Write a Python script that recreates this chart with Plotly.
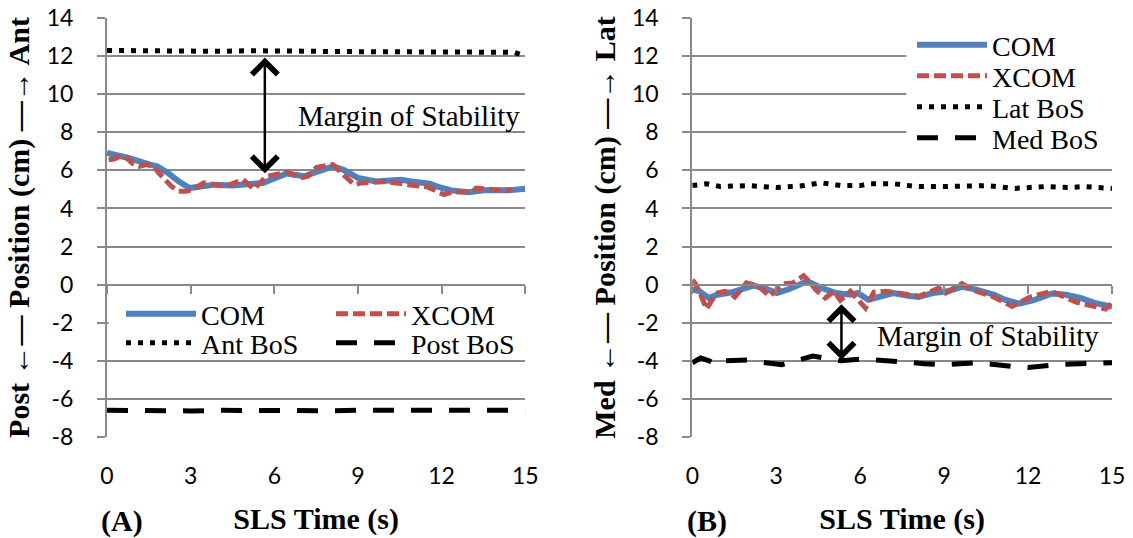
import plotly.graph_objects as go

# ---------------- Panel A: anterior / posterior ----------------
t_com_ap = [0.0, 0.77, 1.54, 1.80, 2.19, 2.57, 2.96, 3.34, 3.86, 4.50, 5.14, 5.59,
            6.04, 6.43, 7.07, 7.45, 8.10, 8.48, 9.00, 9.64, 10.54, 10.93, 11.57,
            11.82, 12.34, 12.98, 13.50, 14.40, 15.0]
com_ap = [6.91, 6.65, 6.30, 6.21, 5.86, 5.42, 5.07, 5.16, 5.25, 5.20, 5.28, 5.34,
          5.60, 5.83, 5.69, 5.86, 6.21, 6.03, 5.60, 5.42, 5.51, 5.42, 5.30,
          5.16, 4.95, 4.85, 4.95, 4.95, 5.04]

t_xcom_ap = [0.06, 0.26, 0.51, 0.71, 0.90, 1.16, 1.41, 1.67, 1.86, 2.06, 2.31, 2.57,
             2.83, 3.08, 3.47, 3.86, 4.24, 4.88, 5.27, 5.72, 6.04, 6.49, 6.94, 7.20,
             7.52, 8.10, 8.48, 8.87, 9.13, 9.90, 10.80, 11.50, 12.08, 12.34, 13.11,
             13.24, 14.14, 14.52]
xcom_ap = [6.56, 6.59, 6.77, 6.65, 6.38, 6.21, 6.30, 6.21, 5.86, 5.51, 5.16, 4.90,
           4.90, 4.99, 5.34, 5.25, 5.16, 5.51, 5.02, 5.69, 5.77, 5.90, 5.60, 5.69,
           6.16, 6.30, 5.77, 5.25, 5.34, 5.42, 5.25, 5.13, 4.73, 4.85, 4.90,
           5.07, 4.95, 4.99]

t_ant_bos = [0, 1, 2, 3, 4, 5, 6, 7, 8, 9, 10, 11, 12, 13, 14, 14.6, 15]
ant_bos = [12.30, 12.28, 12.30, 12.22, 12.25, 12.28, 12.24, 12.26, 12.24, 12.24,
           12.24, 12.22, 12.18, 12.20, 12.24, 12.20, 12.00]

t_post_bos = [0, 1, 2, 3, 4, 5, 6, 7, 8, 9, 10, 11, 12, 13, 14, 15]
post_bos = [-6.60, -6.62, -6.60, -6.63, -6.60, -6.62, -6.60, -6.60, -6.62, -6.60,
            -6.60, -6.62, -6.66, -6.64, -6.60, -6.60]

# ---------------- Panel B: medial / lateral ----------------
t_com_ml = [0.0, 0.26, 0.58, 0.90, 1.41, 1.80, 2.18, 2.57, 3.02, 3.47, 4.11, 4.62,
            5.14, 5.65, 5.91, 6.29, 6.68, 7.19, 7.71, 8.09, 8.60, 9.12, 9.63, 10.15,
            10.79, 11.17, 11.69, 12.20, 12.84, 13.36, 13.87, 14.38, 15.0]
com_ml = [-0.26, -0.35, -0.70, -0.53, -0.40, -0.26, -0.05, -0.18, -0.44, -0.23, 0.18,
          -0.18, -0.44, -0.53, -0.44, -0.79, -0.65, -0.44, -0.58, -0.65, -0.44, -0.35,
          -0.12, -0.26, -0.53, -0.79, -1.00, -0.82, -0.47, -0.53, -0.70, -0.96, -1.17]

t_xcom_ml = [0.0, 0.13, 0.32, 0.51, 0.71, 0.90, 1.16, 1.35, 1.52, 1.67, 1.93, 2.18,
             2.44, 2.76, 3.02, 3.27, 3.60, 3.98, 4.17, 4.43, 4.75, 5.07, 5.29, 5.65,
             6.19, 6.49, 6.93, 7.58, 8.09, 8.48, 8.80, 9.05, 9.63, 10.15, 10.72, 11.43,
             12.07, 12.84, 13.74, 14.77, 15.0]
xcom_ml = [0.26, 0.00, -0.61, -1.28, -0.79, -0.44, -0.35, -0.44, -0.65, -0.35, 0.09,
           0.00, -0.18, -0.61, -0.30, 0.05, 0.09, 0.47, 0.18, -0.30, -0.70, -0.35,
           -0.82, -0.35, -1.23, -0.39, -0.35, -0.47, -0.61, -0.40, -0.18, -0.44, 0.05,
           -0.35, -0.61, -1.14, -0.65, -0.35, -0.93, -1.28, -0.96]

t_lat_bos = [0, 0.5, 1, 2, 3, 4, 4.6, 5.3, 6, 6.3, 7.2, 8, 9, 10, 10.5, 11.5, 12.6,
             13.5, 14, 15]
lat_bos = [5.20, 5.30, 5.15, 5.20, 5.10, 5.20, 5.35, 5.20, 5.20, 5.30, 5.30, 5.15,
           5.15, 5.20, 5.20, 5.05, 5.15, 5.10, 5.15, 5.05]

t_med_bos = [0, 0.3, 0.6, 0.9, 1.2, 2.0, 2.3, 3.2, 4.3, 5.3, 6.1, 7.2, 8.3, 9.0, 10.2,
             11.5, 12.0, 13.0, 13.8, 15]
med_bos = [-4.10, -3.85, -4.00, -4.25, -4.00, -3.95, -4.05, -4.20, -3.75, -4.00,
           -3.90, -4.05, -4.15, -4.20, -4.10, -4.30, -4.35, -4.20, -4.15, -4.10]

# ---------------- axis ticks ----------------
x_ticks = [0, 3, 6, 9, 12, 15]
y_ticks = list(range(-8, 15, 2))
y_ticktext = [str(v) for v in y_ticks]
y_range = [-8, 14]

# margin-of-stability arrows (time, upper end, lower end)
mos_a = (5.66, 12.0, 5.85)
mos_b = (5.33, -0.95, -3.95)

BLUE = "#4F81BD"
RED = "#C0504D"
GRID = "#898989"
SERIF = "Liberation Serif"
SANS = "Lato"

fig = go.Figure()


def add_line(x, y, name, color, width, dash, xa, ya, legend):
    fig.add_trace(go.Scatter(
        x=x, y=y, name=name, mode="lines",
        line=dict(color=color, width=width, dash=dash),
        xaxis=xa, yaxis=ya, legend=legend, hoverinfo="skip",
    ))


add_line(t_com_ap, com_ap, "COM", BLUE, 6, "solid", "x", "y", "legend")
add_line(t_xcom_ap, xcom_ap, "XCOM", RED, 5, "12px,5px", "x", "y", "legend2")
add_line(t_ant_bos, ant_bos, "Ant BoS", "black", 5, "5px,7px", "x", "y", "legend3")
add_line(t_post_bos, post_bos, "Post BoS", "black", 5, "21px,17px", "x", "y", "legend4")

add_line(t_com_ml, com_ml, "COM", BLUE, 6, "solid", "x2", "y2", "legend5")
add_line(t_xcom_ml, xcom_ml, "XCOM", RED, 5, "12px,5px", "x2", "y2", "legend6")
add_line(t_lat_bos, lat_bos, "Lat BoS", "black", 5, "5px,7px", "x2", "y2", "legend7")
add_line(t_med_bos, med_bos, "Med BoS", "black", 5, "21px,17px", "x2", "y2", "legend8")

# plot area: 1005 x 419 px (margins l=107, r=21, t=18, b=101)
L, T, W, H = 107, 18, 1005, 419


def px_x(p):
    return (p - L) / W


def px_y(p):
    return (T + H - p) / H


def legend_at(xpx, ypx):
    return dict(x=px_x(xpx), y=px_y(ypx), xanchor="left", yanchor="middle",
                orientation="h", bgcolor="rgba(0,0,0,0)", borderwidth=0,
                itemwidth=70, font=dict(family=SERIF, size=28, color="black"),
                itemclick=False, itemdoubleclick=False)


zero_pos = (0 - y_range[0]) / (y_range[1] - y_range[0])

xaxis_common = dict(
    range=[0, 15], tickvals=x_ticks, anchor="free", position=zero_pos,
    showline=True, linecolor=GRID, linewidth=2, ticks="outside", ticklen=8,
    tickwidth=2, tickcolor=GRID, showgrid=False, zeroline=False,
    tickfont=dict(family=SANS, size=23, color="black"), ticklabelstandoff=163,
    title=dict(text="SLS Time (s)", standoff=19,
               font=dict(family=SERIF, size=30, color="black", weight="bold")),
)
yaxis_common = dict(
    range=y_range, tickvals=y_ticks, ticktext=y_ticktext, showgrid=True,
    gridcolor=GRID, gridwidth=2, showline=True, linecolor=GRID, linewidth=2,
    ticks="outside", ticklen=8, tickwidth=2, tickcolor=GRID, zeroline=False,
    tickfont=dict(family=SANS, size=23, color="black"), ticklabelstandoff=19,
)
ytitle_font = dict(family=SERIF, size=30, color="black", weight="bold")

fig.update_layout(
    width=1133, height=538,
    margin=dict(l=L, r=21, t=T, b=101, autoexpand=False),
    paper_bgcolor="white", plot_bgcolor="white",
    xaxis=dict(domain=[0, 0.4162], **xaxis_common),
    xaxis2=dict(domain=[0.5824, 1.0], **xaxis_common),
    yaxis=dict(anchor="x", domain=[0, 1], **yaxis_common,
               title=dict(text="Post ←— Position (cm) —→ Ant", standoff=8,
                          font=ytitle_font)),
    yaxis2=dict(anchor="x2", domain=[0, 1], **yaxis_common,
                title=dict(text="Med ←— Position (cm) —→ Lat", standoff=8,
                           font=ytitle_font)),
    legend=legend_at(121, 314),
    legend2=legend_at(331, 314),
    legend3=legend_at(121, 343),
    legend4=legend_at(331, 343),
    legend5=legend_at(912, 45),
    legend6=legend_at(912, 76),
    legend7=legend_at(912, 107),
    legend8=legend_at(912, 138),
    showlegend=True,
)

# white legend panels that hide the gridlines behind the legend entries
fig.add_shape(type="rect", xref="x domain", yref="y", x0=0.004, x1=1.0,
              y0=-3.75, y1=-0.55, fillcolor="white", line_width=0, layer="above")
fig.add_shape(type="rect", xref="x2 domain", yref="y2", x0=0.51, x1=1.0,
              y0=7.0, y1=13.5, fillcolor="white", line_width=0, layer="above")

# panel letters
for label, xref in (("(A)", "x domain"), ("(B)", "x2 domain")):
    fig.add_annotation(text=label, x=0.036, y=-0.2, xref=xref, yref="paper",
                       xanchor="center", yanchor="middle", showarrow=False,
                       font=dict(family=SERIF, size=30, color="black", weight="bold"))

# margin of stability labels and arrows
for (t, top, bottom), xr, yr, tx, ty in ((mos_a, "x", "y", 6.79, 8.83),
                                         (mos_b, "x2", "y2", 6.52, -2.71)):
    fig.add_annotation(text="Margin of Stability", x=tx, y=ty, xref=xr, yref=yr,
                       xanchor="left", yanchor="middle", showarrow=False,
                       font=dict(family=SERIF, size=29, color="black"))
    fig.add_annotation(text="", x=t, y=bottom, ax=t, ay=top, xref=xr, yref=yr,
                       axref=xr, ayref=yr, showarrow=True, arrowside="end+start",
                       arrowhead=4, startarrowhead=4, arrowsize=2,
                       startarrowsize=2, arrowwidth=2.5, arrowcolor="black",
                       standoff=0, startstandoff=0)

fig.write_html("out.html")
